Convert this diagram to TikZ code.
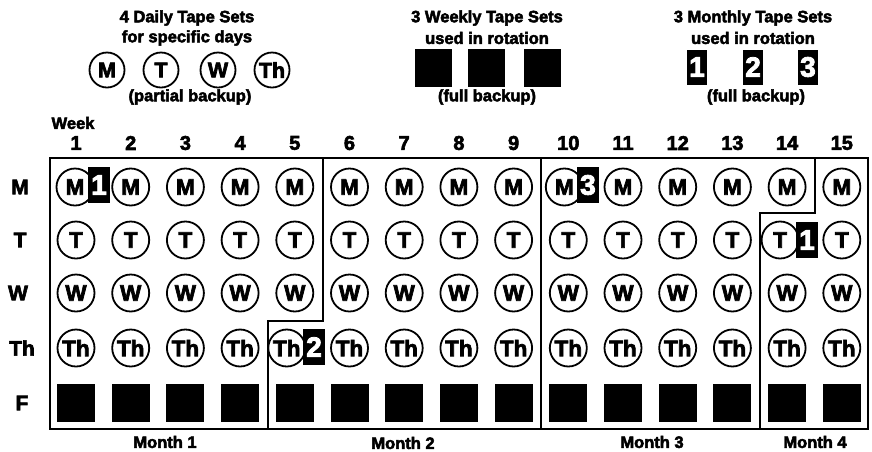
\documentclass[tikz,border=0pt]{standalone}
\usepackage{fontspec}
\setmainfont{Liberation Sans}[BoldFeatures={FakeBold=3}]
\begin{document}
\begin{tikzpicture}[x=1pt,y=-1pt,
  tape/.style={circle,draw,line width=1.8pt,minimum size=37pt,inner sep=0pt,font=\bfseries\fontsize{22.5}{22.5}\selectfont},
  htape/.style={tape,minimum size=35pt,font=\bfseries\fontsize{21.5}{21.5}\selectfont},
  fsq/.style={fill=black,minimum width=38pt,minimum height=38pt,inner sep=0pt},
  wsq/.style={fill=black,minimum width=37pt,minimum height=38pt,inner sep=0pt},
  mbox/.style={fill=black,text=white,minimum width=22pt,minimum height=36pt,inner sep=0pt,font=\bfseries\fontsize{28}{28}\selectfont},
  hbox/.style={mbox,minimum width=20pt,minimum height=35pt},
  hdr/.style={font=\bfseries\fontsize{16.5}{16.5}\selectfont},
  wk/.style={font=\bfseries\fontsize{20}{20}\selectfont},
  rowlab/.style={font=\bfseries\fontsize{21}{21}\selectfont},
  outline/.style={line width=1.9pt}]
\useasboundingbox (0,0) rectangle (872,451);
% header: daily
\node[hdr] (d1) at (187,18) {4 Daily Tape Sets};
\node[hdr] (d2) at (187,38) {for specific days};
\node[htape] (hm) at (107,70) {M};
\node[htape] (ht) at (161,70) {T};
\node[htape] (hw) at (218,70) {W};
\node[htape] (hth) at (272,70) {Th};
\node[hdr] (d3) at (190,97) {(partial backup)};
% header: weekly
\node[hdr] (e1) at (487,18) {3 Weekly Tape Sets};
\node[hdr] (e2) at (487,38) {used in rotation};
\node[wsq] (hw1) at (433,68) {};
\node[wsq] (hw2) at (486,68) {};
\node[wsq] (hw3) at (542,68) {};
\node[hdr] (e3) at (487,97) {(full backup)};
% header: monthly
\node[hdr] (g1) at (753,18) {3 Monthly Tape Sets};
\node[hdr] (g2) at (753,38) {used in rotation};
\node[hbox] (hb1) at (697,67) {1};
\node[hbox] (hb2) at (753,67) {2};
\node[hbox] (hb3) at (808,67) {3};
\node[hdr] (g3) at (756,97) {(full backup)};
% week label
\node[hdr] (week) at (73,123) {Week};
% row labels
\node[rowlab] (rm) at (20,187) {M};
\node[rowlab] (rt) at (20,240) {T};
\node[rowlab] (rw) at (18,293) {W};
\node[rowlab] (rth) at (22,348) {Th};
\node[rowlab] (rf) at (22,403) {F};
% grid
\foreach \i in {1,...,15} {
  \pgfmathsetmacro\x{76+54.7*(\i-1)}
  \pgfmathsetmacro\mo{(\i==10)*(-4)-(\i==1)*1}
  \pgfmathsetmacro\to{(\i==14)*(-7)}
  \pgfmathsetmacro\tho{(\i==5)*(-8)}
  \node[wk] (n\i) at (\x,143) {\i};
  \node[tape] (m\i) at (\x+\mo,187) {M};
  \node[tape] (t\i) at (\x+\to,240) {T};
  \node[tape] (w\i) at (\x,293) {W};
  \node[tape] (th\i) at (\x+\tho,348) {Th};
  \node[fsq] (f\i) at (\x,403) {};
}
% monthly markers in grid
\node[mbox] (b1) at (99,185) {1};
\node[mbox] (b2) at (314,347) {2};
\node[mbox] (b3) at (588,185) {3};
\node[mbox] (b4) at (807,240) {1};
% month outlines
\draw[outline] (50,158) rectangle (868,429);
\draw[outline] (323,158) -- (323,321) -- (268,321) -- (268,429);
\draw[outline] (541,158) -- (541,429);
\draw[outline] (815,158) -- (815,213) -- (760,213) -- (760,429);
% month labels
\node[hdr] (mo1) at (165,442) {Month 1};
\node[hdr] (mo2) at (403,443) {Month 2};
\node[hdr] (mo3) at (652,442) {Month 3};
\node[hdr] (mo4) at (815,442) {Month 4};
\end{tikzpicture}
\end{document}
